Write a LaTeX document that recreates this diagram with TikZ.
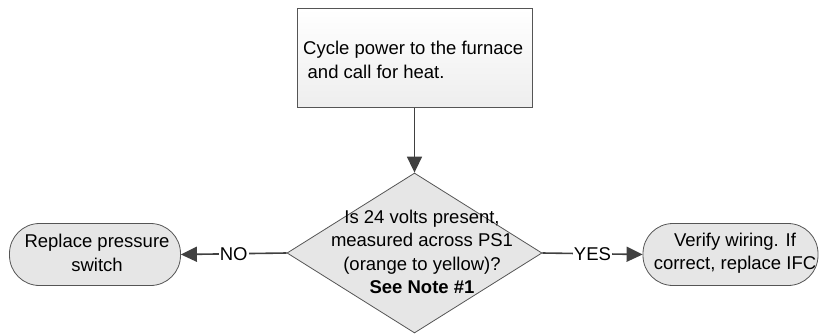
\documentclass[tikz,border=0pt]{standalone}
\usepackage{fontspec}
\setmainfont{Liberation Sans}
\usetikzlibrary{shapes.geometric,arrows.meta}
\definecolor{edgec}{HTML}{555555}
\definecolor{arrowc}{HTML}{404040}
\definecolor{fillc}{HTML}{E6E6E6}
\tikzset{
  txt/.style={font=\fontsize{18.5}{23.5}\selectfont, inner sep=0pt, text=black},
  procbox/.style={draw=edgec, line width=0.8pt, top color=white, bottom color=fillc!70, minimum width=235pt, minimum height=99pt, inner sep=0pt},
  decision/.style={diamond, draw=edgec, line width=0.8pt, fill=fillc, minimum width=255pt, minimum height=160pt, inner sep=0pt},
  term/.style={draw=edgec, line width=0.8pt, fill=fillc, rounded corners=30pt, minimum height=62pt, inner sep=0pt},
  flow/.style={draw=arrowc, line width=1.6pt, -{Triangle[length=16pt,width=15pt]}},
  lbl/.style={txt, fill=white, inner xsep=1pt, inner ysep=1pt}
}
\begin{document}
\begin{tikzpicture}[x=1pt,y=-1pt]
\useasboundingbox (0,0) rectangle (823,335);
\node[procbox] (box) at (414.5,58) {};
\node[txt, align=left, anchor=west] (boxt) at (303,60) {Cycle power to the furnace\\\hspace{4.5pt}and call for heat.};
\node[decision] (dec) at (414.5,253) {};
\node[txt, align=center] (dect) at (422,252) {Is 24 volts present,\\measured across PS1\\(orange to yellow)?\\\textbf{See Note \#1}};
\node[term, minimum width=171pt] (left) at (95,254.5) {};
\node[txt, align=center] (leftt) at (97,253) {Replace pressure\\switch};
\node[term, minimum width=175pt] (right) at (730.5,254.5) {};
\node[txt, align=center] (rightt) at (735,253) {Verify wiring. If\\correct, replace IFC};
\draw[flow] (box.south) -- (dec.north);
\draw[flow] (dec.west) -- node[lbl] (no) {NO} (left.east);
\draw[flow] (dec.east) -- node[lbl] (yes) {YES} (right.west);
\end{tikzpicture}
\end{document}
